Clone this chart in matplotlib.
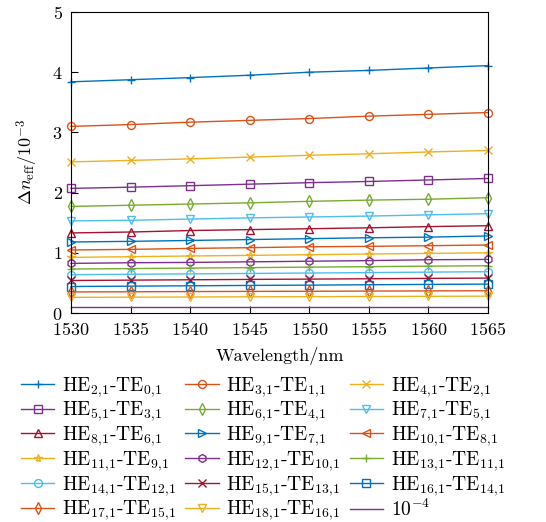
import matplotlib
matplotlib.use('Agg')
import matplotlib.pyplot as plt

plt.rcParams['font.family'] = 'serif'
plt.rcParams['font.serif'] = ['cmr10']
plt.rcParams['mathtext.fontset'] = 'cm'
plt.rcParams['axes.formatter.use_mathtext'] = True

# Wavelength (nm)
wavelength = [1530, 1535, 1540, 1545, 1550, 1555, 1560, 1565]

# Delta n_eff in units of 1e-3
he21 = [3.84, 3.875, 3.91, 3.95, 4.00, 4.03, 4.07, 4.11]
he31 = [3.10, 3.13, 3.17, 3.20, 3.23, 3.27, 3.30, 3.33]
he41 = [2.51, 2.535, 2.56, 2.59, 2.62, 2.645, 2.675, 2.70]
he51 = [2.07, 2.09, 2.115, 2.14, 2.165, 2.185, 2.21, 2.235]
he61 = [1.77, 1.79, 1.81, 1.83, 1.855, 1.875, 1.89, 1.915]
he71 = [1.53, 1.54, 1.56, 1.58, 1.595, 1.61, 1.63, 1.65]
he81 = [1.33, 1.345, 1.37, 1.385, 1.40, 1.415, 1.435, 1.45]
he91 = [1.18, 1.19, 1.205, 1.22, 1.235, 1.25, 1.26, 1.28]
he101 = [1.047, 1.057, 1.073, 1.085, 1.10, 1.107, 1.118, 1.13]
he111 = [0.924, 0.935, 0.947, 0.957, 0.968, 0.98, 0.99, 1.00]
he121 = [0.824, 0.835, 0.84, 0.85, 0.86, 0.87, 0.885, 0.89]
he131 = [0.73, 0.738, 0.746, 0.754, 0.762, 0.77, 0.778, 0.785]
he141 = [0.636, 0.643, 0.65, 0.657, 0.664, 0.671, 0.679, 0.686]
he151 = [0.54, 0.546, 0.552, 0.558, 0.563, 0.569, 0.575, 0.58]
he161 = [0.44, 0.446, 0.452, 0.458, 0.463, 0.469, 0.475, 0.48]
he171 = [0.35, 0.353, 0.356, 0.359, 0.361, 0.364, 0.367, 0.37]
he181 = [0.26, 0.263, 0.266, 0.269, 0.271, 0.274, 0.277, 0.28]
ref = [0.1] * 8

series = [he21, he31, he41, he51, he61, he71, he81, he91, he101,
          he111, he121, he131, he141, he151, he161, he171, he181, ref]
labels = [
    r'HE$_{2{,}1}$-TE$_{0{,}1}$', r'HE$_{3{,}1}$-TE$_{1{,}1}$', r'HE$_{4{,}1}$-TE$_{2{,}1}$',
    r'HE$_{5{,}1}$-TE$_{3{,}1}$', r'HE$_{6{,}1}$-TE$_{4{,}1}$', r'HE$_{7{,}1}$-TE$_{5{,}1}$',
    r'HE$_{8{,}1}$-TE$_{6{,}1}$', r'HE$_{9{,}1}$-TE$_{7{,}1}$', r'HE$_{10{,}1}$-TE$_{8{,}1}$',
    r'HE$_{11{,}1}$-TE$_{9{,}1}$', r'HE$_{12{,}1}$-TE$_{10{,}1}$', r'HE$_{13{,}1}$-TE$_{11{,}1}$',
    r'HE$_{14{,}1}$-TE$_{12{,}1}$', r'HE$_{15{,}1}$-TE$_{13{,}1}$', r'HE$_{16{,}1}$-TE$_{14{,}1}$',
    r'HE$_{17{,}1}$-TE$_{15{,}1}$', r'HE$_{18{,}1}$-TE$_{16{,}1}$', r'$10^{-4}$',
]
markers = ['+', 'o', 'x', 's', 'd', 'v', '^', '>', '<',
           '*', 'h', '+', 'o', 'x', 's', 'd', 'v', 'None']
colors = ['#0072BD', '#D95319', '#EDB120', '#7E2F8E', '#77AC30', '#4DBEEE', '#A2142F']

fig = plt.figure(figsize=(5.46, 5.22), dpi=100)
ax = fig.add_axes([71 / 546, 1 - 313 / 522, 417 / 546, 301 / 522])

handles = []
for i, (y, lab, m) in enumerate(zip(series, labels, markers)):
    h, = ax.plot(wavelength, y, marker=m, color=colors[i % 7], label=lab,
                 linewidth=1, markersize=5.7, markerfacecolor='none',
                 markeredgewidth=1, clip_on=False)
    handles.append(h)

ax.set_xlim(1530, 1565)
ax.set_ylim(0, 5)
ax.set_xticks(wavelength)
ax.set_yticks([0, 1, 2, 3, 4, 5])
ax.tick_params(direction='in', labelsize=13, length=5, pad=6)
ax.set_xlabel('Wavelength/nm', fontsize=13, labelpad=6)
ax.set_ylabel(r'$\Delta n_{\mathrm{eff}}/10^{-3}$', fontsize=13, labelpad=9)

# row-major order for a 3-column legend
order = [r * 3 + c for c in range(3) for r in range(6)]
fig.legend([handles[k] for k in order], [labels[k] for k in order],
           loc='upper left', bbox_to_anchor=(21 / 546, 1 - 375 / 522), ncol=3,
           frameon=False, fontsize=14, handlelength=1.7, handletextpad=0.4,
           columnspacing=0.5, labelspacing=0.05, borderpad=0, borderaxespad=0)

plt.savefig('out.png', dpi=100)
